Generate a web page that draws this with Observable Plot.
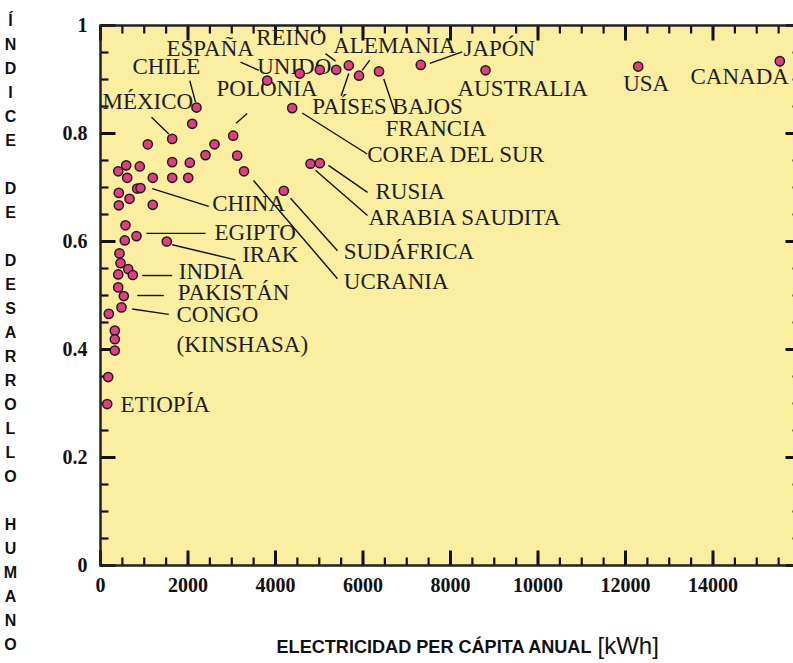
<!DOCTYPE html>
<html><head><meta charset="utf-8">
<script src="https://cdn.jsdelivr.net/npm/d3@7"></script>
<script src="https://cdn.jsdelivr.net/npm/@observablehq/plot@0.6"></script>
<style>
html,body{margin:0;padding:0;background:#fff;overflow:hidden;}
#chart{width:793px;height:663px;overflow:hidden;position:relative;}
</style></head><body><div id="chart"></div>
<script>
// Electricity per capita (kWh/yr) and Human Development Index
const kwh = [2096,1639,3033,1081,2606,2400,3125,1639,2041,587,898,405,3280,610,1195,1639,2005,839,914,418,663,418,1195,571,823,555,1515,434,457,633,405,738,405,533,480,190,327,327,327,176,153,2194,3810,4555,5013,5387,5675,5909,6366,7321,8800,12290,15527,4382,4800,5013,4190];
const hdi = [0.818,0.790,0.796,0.780,0.780,0.760,0.759,0.747,0.746,0.741,0.739,0.730,0.730,0.718,0.718,0.718,0.718,0.698,0.699,0.690,0.679,0.667,0.668,0.630,0.610,0.602,0.600,0.578,0.560,0.549,0.539,0.538,0.515,0.499,0.478,0.466,0.435,0.419,0.398,0.349,0.299,0.848,0.898,0.911,0.918,0.918,0.926,0.907,0.915,0.927,0.917,0.924,0.934,0.847,0.744,0.745,0.694];

// Country labels (anchored in data units)
const labelText = ["ESPAÑA","REINO","UNIDO","CHILE","MÉXICO","POLONIA","ALEMANIA","JAPÓN","PAÍSES BAJOS","FRANCIA","COREA DEL SUR","AUSTRALIA","USA","CANADÁ","RUSIA","ARABIA SAUDITA","SUDÁFRICA","UCRANIA","CHINA","EGIPTO","IRAK","INDIA","PAKISTÁN","CONGO","(KINSHASA)","ETIOPÍA"];
const labelX = [1509,3559,3582,731,46,2651,5319,8297,4839,6514,6096,8160,11947,13486,6286,6126,5561,5561,2553,2606,3239,1790,1767,1737,1737,457];
const labelY = [0.943,0.963,0.911,0.911,0.846,0.869,0.949,0.944,0.837,0.796,0.747,0.870,0.878,0.891,0.679,0.630,0.568,0.512,0.657,0.602,0.562,0.531,0.491,0.451,0.395,0.284];

// Leader lines (data units)
const leadX1 = [3200,5143,2041,1166,3353,6155,7527,5675,6475,4610,5211,4914,4343,3497,1182,1051,1639,953,839,725];
const leadY1 = [0.932,0.948,0.898,0.830,0.837,0.936,0.930,0.911,0.901,0.838,0.741,0.732,0.680,0.713,0.698,0.615,0.594,0.537,0.500,0.475];
const leadX2 = [3618,5371,2171,1561,3102,5982,8267,5502,6743,6096,6103,6103,5417,5417,2475,2400,3086,1639,1447,1561];
const leadY2 = [0.917,0.934,0.858,0.799,0.819,0.917,0.951,0.870,0.836,0.762,0.691,0.648,0.583,0.531,0.665,0.615,0.566,0.537,0.500,0.465];

const xTickLabels = [0,2000,4000,6000,8000,10000,12000,14000];
const yTickLabels = [0,0.2,0.4,0.6,0.8,1];
const xMajor = [0,2000,4000,6000,8000,10000,12000,14000,16000];
const xMinor = d3.range(0,16001,500);
const yMajor = [0,0.2,0.4,0.6,0.8,1];
const yMinor = d3.range(0,21).map(i => i/20);

const yTitle = "Í\nN\nD\nI\nC\nE\n \nD\nE\n \nD\nE\nS\nA\nR\nR\nO\nL\nL\nO\n \nH\nU\nM\nA\nN\nO";
const xTitle = "ELECTRICIDAD PER CÁPITA ANUAL";
const xUnit = "[kWh]";

const points = kwh.map((x,i)=>({x, y:hdi[i]}));
const labels = labelText.map((t,i)=>({t, x:labelX[i], y:labelY[i]}));
const leaders = leadX1.map((x1,i)=>({x1, y1:leadY1[i], x2:leadX2[i], y2:leadY2[i]}));

const serif = "'Liberation Serif','Times New Roman',serif";
const sans = "'Liberation Sans',Arial,sans-serif";

const W = 800, H = 663, ML = 100, MR = 0, MT = 25, MB = 98;
const XD = [0,16000], YD = [0,1];
const PW = W - ML - MR, PH = H - MT - MB;

// inward tick segments on all four sides (pixel length converted to scale units)
function tickSegs(xs, ys, len) {
  const ly = len / PH, lx = len / PW * XD[1];
  const out = [];
  for (const v of xs) {
    out.push({x1: v, x2: v, y1: 0, y2: ly});
    out.push({x1: v, x2: v, y1: 1, y2: 1 - ly});
  }
  for (const v of ys) {
    out.push({x1: 0, x2: lx, y1: v, y2: v});
    out.push({x1: XD[1], x2: XD[1] - lx, y1: v, y2: v});
  }
  return out;
}
const minorSegs = tickSegs(xMinor, yMinor, 8);
const majorSegs = tickSegs(xMajor, yMajor, 15);

const chart = Plot.plot({
  width: W, height: H,
  marginLeft: ML, marginRight: MR, marginTop: MT, marginBottom: MB,
  x: {domain: XD, axis:null},
  y: {domain: YD, axis:null},
  style: {background:"white", maxWidth:"none", fontFamily: serif},
  marks: [
    Plot.frame({fill:"#FBEEA1", stroke:null}),
    Plot.link(minorSegs, {x1:"x1", y1:"y1", x2:"x2", y2:"y2", stroke:"#111", strokeWidth:2.2}),
    Plot.link(majorSegs, {x1:"x1", y1:"y1", x2:"x2", y2:"y2", stroke:"#111", strokeWidth:3}),
    Plot.axisX(xTickLabels, {anchor:"bottom", tickSize:0, tickPadding:12, label:null, tickFormat:d=>String(d), fontSize:20, fontWeight:"bold", fontFamily:serif, fill:"#111"}),
    Plot.axisY(yTickLabels, {anchor:"left", tickSize:0, tickPadding:13, label:null, tickFormat:d=>String(d), fontSize:20, fontWeight:"bold", fontFamily:serif, fill:"#111"}),
    Plot.link(leaders, {x1:"x1", y1:"y1", x2:"x2", y2:"y2", stroke:"#111", strokeWidth:1.4}),
    Plot.text(labels, {x:"x", y:"y", text:"t", textAnchor:"start", lineAnchor:"bottom", fontSize:23, fontFamily:serif, fill:"#1e1e1e"}),
    Plot.dot(points, {x:"x", y:"y", r:4.6, fill:"#D8427F", stroke:"#2a1620", strokeWidth:1.5}),
    Plot.frame({stroke:"#222", strokeWidth:2.5}),
    Plot.text([0], {frameAnchor:"left", text:()=>yTitle, dx:-90, dy:35, lineAnchor:"middle", textAnchor:"middle", lineHeight:1.5, fontSize:16, fontWeight:"bold", fontFamily:sans, fill:"#111"}),
    Plot.text([0], {frameAnchor:"bottom", text:()=>xTitle, textAnchor:"end", dx:141, dy:87, lineAnchor:"bottom", fontSize:18.1, fontWeight:"bold", fontFamily:sans, fill:"#111"}),
    Plot.text([0], {frameAnchor:"bottom", text:()=>xUnit, textAnchor:"start", dx:147, dy:88, lineAnchor:"bottom", fontSize:24, fontFamily:sans, fill:"#111"})
  ]
});
document.getElementById("chart").appendChild(chart);
</script></body></html>
